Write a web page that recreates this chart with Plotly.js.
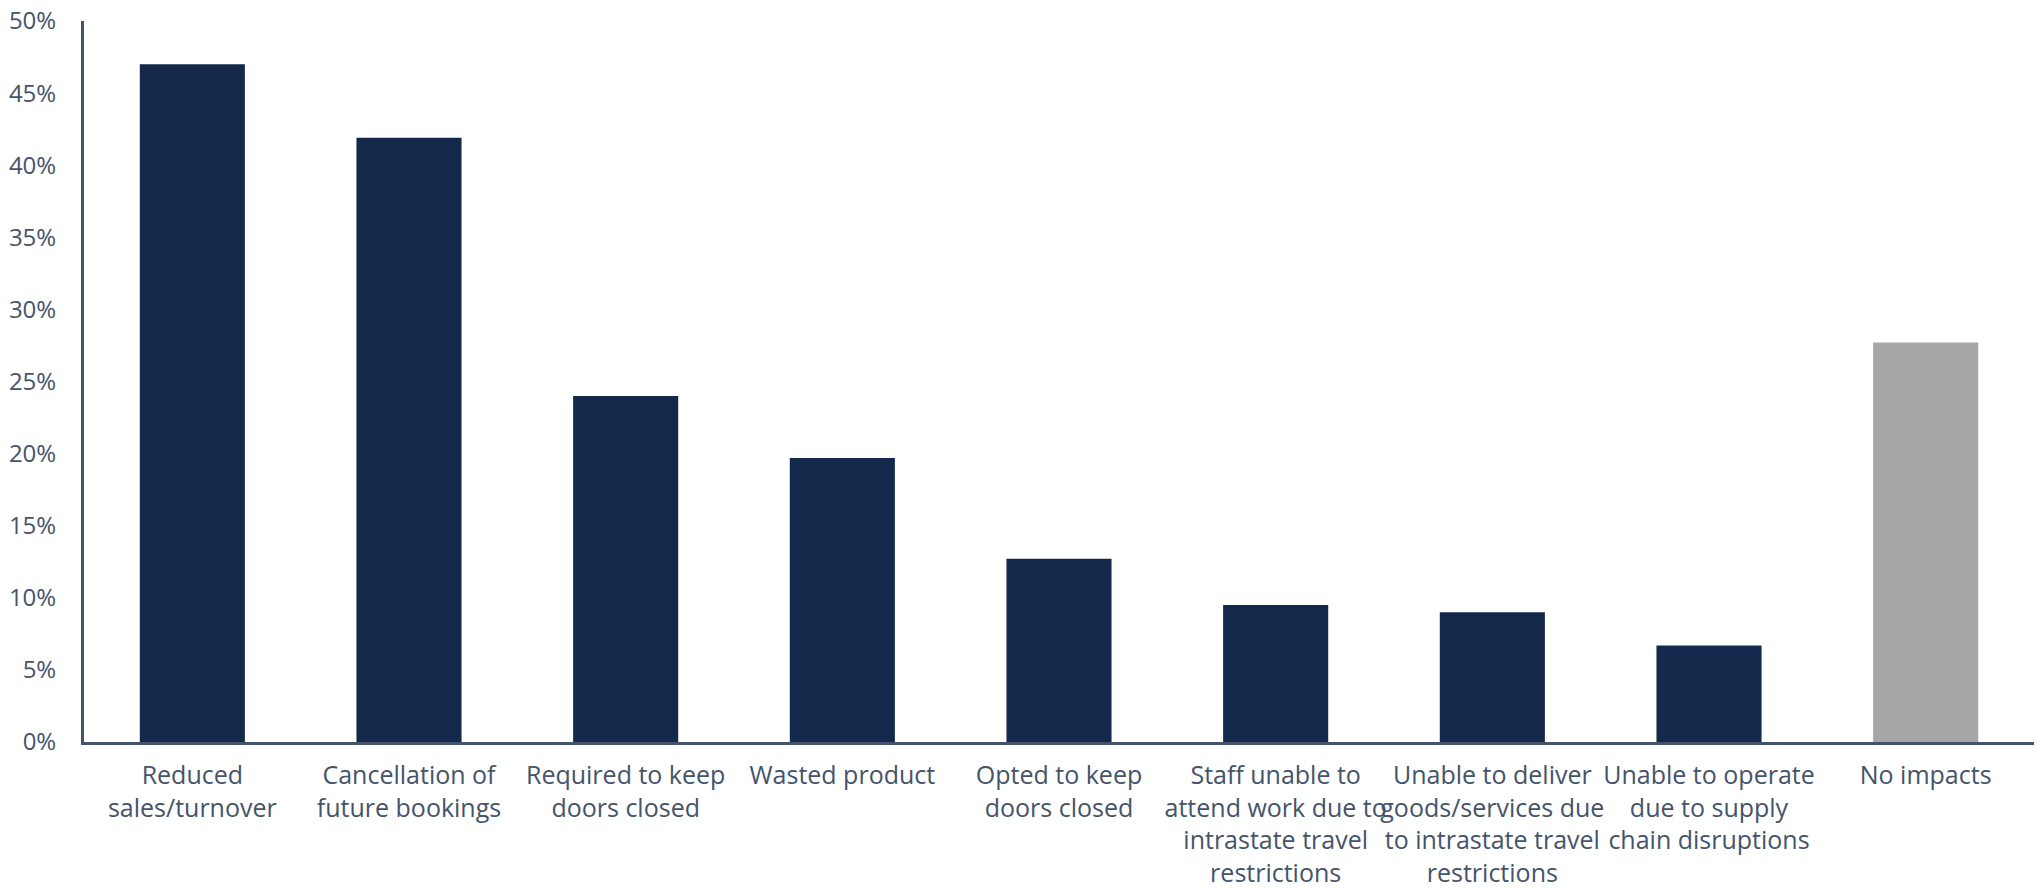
<!DOCTYPE html>
<html>
<head>
<meta charset="utf-8">
<script src="https://cdn.plot.ly/plotly-3.0.1.min.js"></script>
<style>html,body{margin:0;padding:0;background:#fff;}#chart{width:2038px;height:888px;}</style>
</head>
<body>
<div id="chart"></div>
<script>
const categories = [
  "Reduced<br>sales/turnover",
  "Cancellation of<br>future bookings",
  "Required to keep<br>doors closed",
  "Wasted product",
  "Opted to keep<br>doors closed",
  "Staff unable to<br>attend work due to<br>intrastate travel<br>restrictions",
  "Unable to deliver<br>goods/services due<br>to intrastate travel<br>restrictions",
  "Unable to operate<br>due to supply<br>chain disruptions",
  "No impacts"
];
const values = [47.0, 41.9, 24.0, 19.7, 12.7, 9.5, 9.0, 6.7, 27.7];
const barColors = ["#14284B","#14284B","#14284B","#14284B","#14284B","#14284B","#14284B","#14284B","#A6A6A6"];
const yTickVals = [0, 5, 10, 15, 20, 25, 30, 35, 40, 45, 50];
const yTickText = ["0%","5%","10%","15%","20%","25%","30%","35%","40%","45%","50%"];

const textColor = "#44546A";

Plotly.newPlot("chart", [{
  type: "bar",
  x: categories,
  y: values,
  marker: {color: barColors},
  hoverinfo: "none"
}], {
  width: 2038,
  height: 888,
  margin: {l: 84, r: 4, t: 21, b: 146},
  paper_bgcolor: "#fff",
  plot_bgcolor: "#fff",
  bargap: 0.515,
  showlegend: false,
  font: {family: "Open Sans, sans-serif", color: textColor, size: 24},
  xaxis: {
    type: "category",
    range: [-0.5, 8.5],
    showline: true,
    linecolor: "#44546A",
    linewidth: 3,
    showgrid: false,
    zeroline: false,
    ticks: "",
    tickangle: 0,
    ticklabelstandoff: 9,
    tickfont: {family: "Open Sans, sans-serif", size: 25, color: textColor}
  },
  yaxis: {
    range: [0, 50],
    tickvals: yTickVals,
    ticktext: yTickText,
    showline: true,
    linecolor: "#44546A",
    linewidth: 3,
    showgrid: false,
    zeroline: false,
    ticks: "",
    ticklabelstandoff: 20,
    tickfont: {family: "Open Sans, sans-serif", size: 24, color: textColor}
  }
}, {displayModeBar: false, staticPlot: true});
</script>
</body>
</html>
